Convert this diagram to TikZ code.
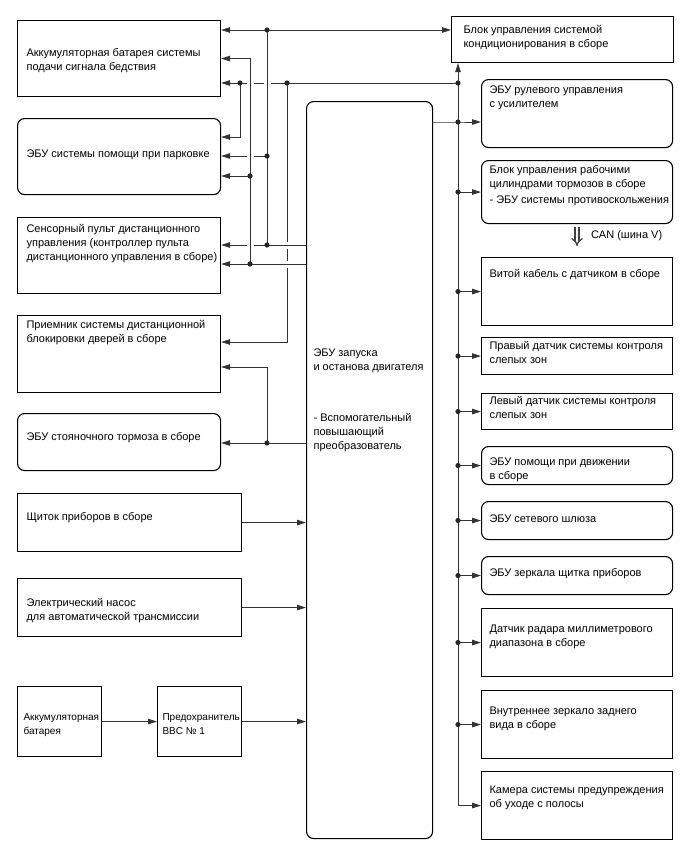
\documentclass[tikz,border=0pt]{standalone}
\usepackage{fontspec}
\setmainfont{Liberation Sans}
\usetikzlibrary{arrows.meta,calc,positioning}
\tikzset{>={Triangle[length=9pt,width=5.5pt]}}
\tikzset{
    unit/.style={draw,line width=1.1pt,inner sep=0pt,anchor=north west},
    ecuunit/.style={unit,rounded corners=7pt},
    wire/.style={draw=black!80,line width=1pt},
    can/.style={draw=black!75,line width=1.3pt,double,double distance=2.6pt,-{Implies},shorten <=3pt,shorten >=11pt}
}
\newcommand{\blocktext}[5][8pt]{\parbox[c][#3][t]{#2}{\vspace*{#4}\hspace*{#1}\begin{tabular}[t]{@{}l@{}}#5\end{tabular}}}
\newcommand{\junction}[1]{\fill[black!85] (#1) circle (2.6pt);}
\newcommand{\gapH}[1]{\fill[white] (#1) ++(-3.5,-2) rectangle ++(7,4);}
\newcommand{\gapV}[1]{\fill[white] (#1) ++(-2,-3.5) rectangle ++(4,7);}

\begin{document}
\begin{tikzpicture}[x=1pt,y=-1pt,font=\fontsize{11}{14}\selectfont]
    \useasboundingbox (0,0) rectangle (688,852);

    \def\xLeft{17}
    \def\xMid{306}
    \def\xRight{481}
    \def\wLeft{203pt}
    \def\wWide{224pt}
    \def\wRight{191pt}
    \def\hTall{68pt}
    \def\hLow{38pt}

    % left column
    \node[unit] at (\xLeft,20) (distress) {\blocktext[9pt]{\wLeft}{76pt}{26pt}{Аккумуляторная батарея системы\\подачи сигнала бедствия}};
    \node[ecuunit] at (\xLeft,118) (park) {\blocktext[9pt]{\wLeft}{76pt}{29pt}{ЭБУ системы помощи при парковке}};
    \node[unit] at (\xLeft,217) (remote) {\blocktext[9pt]{\wLeft}{76pt}{5pt}{Сенсорный пульт дистанционного\\управления (контроллер пульта\\дистанционного управления в сборе)}};
    \node[unit] at (\xLeft,315) (door) {\blocktext[9pt]{\wLeft}{77pt}{3pt}{Приемник системы дистанционной\\блокировки дверей в сборе}};
    \node[ecuunit] at (\xLeft,413) (pbrake) {\blocktext[9pt]{\wLeft}{57pt}{17pt}{ЭБУ стояночного тормоза в сборе}};
    \node[unit] at (\xLeft,493) (cluster) {\blocktext[9pt]{\wWide}{58pt}{17pt}{Щиток приборов в сборе}};
    \node[unit] at (\xLeft,578) (pump) {\blocktext[9pt]{\wWide}{58pt}{18pt}{Электрический насос\\для автоматической трансмиссии}};
    \node[unit,font=\fontsize{10}{14}\selectfont] at (\xLeft,686) (battery) {\blocktext[6pt]{84pt}{70pt}{24.5pt}{Аккумуляторная\\батарея}};
    \node[unit,font=\fontsize{10}{14}\selectfont] at (157,686) (fuse) {\blocktext[5pt]{84pt}{70pt}{24.5pt}{Предохранитель\\BBC № 1}};

    % engine stop and start ECU
    \node[ecuunit] at (\xMid,101) (ecu) {\blocktext[7pt]{126pt}{737pt}{245pt}{ЭБУ запуска\\и останова двигателя\\[37pt]- Вспомогательный\\повышающий\\преобразователь}};

    % right column
    \node[unit] at (451,16) (ac) {\blocktext[12pt]{222pt}{46pt}{7pt}{Блок управления системой\\кондиционирования в сборе}};
    \node[ecuunit] at (\xRight,79) (steer) {\blocktext{\wRight}{\hTall}{4pt}{ЭБУ рулевого управления\\с усилителем}};
    \node[ecuunit] at (\xRight,160) (brake) {\blocktext{\wRight}{63pt}{3pt}{Блок управления рабочими\\цилиндрами тормозов в сборе\\[2pt]- ЭБУ системы противоскольжения}};
    \node[unit] at (\xRight,257) (twist) {\blocktext{\wRight}{\hTall}{10pt}{Витой кабель с датчиком в сборе}};
    \node[unit] at (\xRight,337) (rbsm) {\blocktext{\wRight}{37pt}{2pt}{Правый датчик системы контроля\\слепых зон}};
    \node[unit] at (\xRight,393) (lbsm) {\blocktext{\wRight}{36pt}{1pt}{Левый датчик системы контроля\\слепых зон}};
    \node[ecuunit] at (\xRight,446) (drive) {\blocktext{\wRight}{\hLow}{9pt}{ЭБУ помощи при движении\\в сборе}};
    \node[ecuunit] at (\xRight,501) (gateway) {\blocktext{\wRight}{\hLow}{11pt}{ЭБУ сетевого шлюза}};
    \node[ecuunit] at (\xRight,556) (mirror) {\blocktext{\wRight}{\hLow}{10pt}{ЭБУ зеркала щитка приборов}};
    \node[unit] at (\xRight,608) (radar) {\blocktext{\wRight}{\hTall}{14pt}{Датчик радара миллиметрового\\диапазона в сборе}};
    \node[unit] at (\xRight,690) (inner) {\blocktext{\wRight}{\hTall}{14pt}{Внутреннее зеркало заднего\\вида в сборе}};
    \node[unit] at (\xRight,771) (camera) {\blocktext{\wRight}{\hTall}{12pt}{Камера системы предупреждения\\об уходе с полосы}};

    % junctions and corners
    \coordinate (jA) at (267,30);
    \coordinate (jB) at (458,83);
    \coordinate (jC) at (287,83);
    \coordinate (jD) at (240,83);
    \coordinate (cD) at (240,137);
    \coordinate (jF) at (267,156);
    \coordinate (jG) at (250,176);
    \coordinate (jH) at (267,245);
    \coordinate (jI) at (250,264);
    \coordinate (cC) at (287,342);
    \coordinate (cK) at (267,367);
    \coordinate (jK) at (267,443);
    \coordinate (jE) at (458,122);

    % wiring on the left, crossings drawn with gaps
    \draw[wire,->] (jC) -- (cC) -- (cC -| door.east);
    \gapV{jC |- jH}
    \gapV{jC |- jI}
    \draw[wire,->] (jH -| ecu.west) -- (jH -| remote.east);
    \draw[wire,->] (jI -| ecu.west) -- (jI -| remote.east);
    \draw[wire,->] (jB) -- (jB -| distress.east);
    \draw[wire,->] (jF) -- (jF -| park.east);
    \gapH{jG |- jB}
    \gapH{jA |- jB}
    \gapH{jG |- jF}
    \gapH{jG |- jH}
    \draw[wire] (jH) -- (jA);
    \draw[wire,<->] (jA -| distress.east) -- (jA -| ac.west);
    \draw[wire,->] (jI) -- (jI |- distress.east) -- (distress.east);
    \draw[wire,->] (jD) -- (cD) -- (cD -| park.east);
    \draw[wire,->] (jG) -- (jG -| park.east);
    \draw[wire,->] (jK -| ecu.west) -- (jK -| pbrake.east);
    \draw[wire,->] (jK) -- (cK) -- (cK -| door.east);

    \draw[wire,->] (cluster.east) -- (cluster.east -| ecu.west);
    \draw[wire,->] (pump.east) -- (pump.east -| ecu.west);
    \draw[wire,->] (battery) -- (fuse);
    \draw[wire,->] (fuse) -- (fuse.east -| ecu.west);

    % bus on the right
    \draw[wire,->] (jE -| ecu.east) -- (jE) -- (jE -| steer.west);
    \draw[wire,<->] (jB |- ac.south) -- (jB |- camera.west) -- (camera.west);
    \foreach \unitname in {brake,twist,rbsm,lbsm,drive,gateway,mirror,radar,inner} {
        \draw[wire,->] (jB |- \unitname.west) -- (\unitname.west);
        \junction{jB |- \unitname.west}
    }
    \foreach \j in {jA,jB,jC,jD,jF,jG,jH,jI,jK,jE} {\junction{\j}}

    \draw[can] (brake.south) -- (twist.north) node[pos=0.35,right=10pt] {CAN (шина V)};

\end{tikzpicture}
\end{document}
